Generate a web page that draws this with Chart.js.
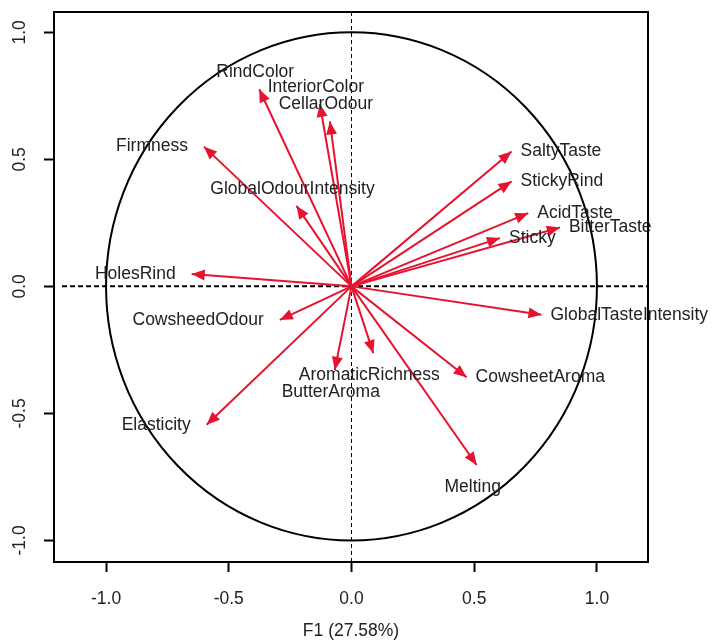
<!DOCTYPE html>
<html>
<head>
<meta charset="utf-8">
<script src="https://cdn.jsdelivr.net/npm/chart.js@4/dist/chart.umd.min.js"></script>
<style>
    html, body { margin: 0; padding: 0; background: #fff; }
    #wrap { width: 714px; height: 641px; }
</style>
</head>
<body>
<div id="wrap"><canvas id="pca-chart"></canvas></div>
<script>
// variable loadings on F1 / F2
const variables = ['RindColor', 'InteriorColor', 'CellarOdour', 'Firmness', 'GlobalOdourIntensity', 'HolesRind',
    'CowsheedOdour', 'Elasticity', 'ButterAroma', 'AromaticRichness', 'CowsheetAroma', 'Melting',
    'GlobalTasteIntensity', 'SaltyTaste', 'StickyRind', 'AcidTaste', 'BitterTaste', 'Sticky'];
const f1 = [-0.376, -0.129, -0.088, -0.601, -0.224, -0.651, -0.292, -0.590, -0.068, 0.089, 0.469, 0.510,
    0.774, 0.652, 0.652, 0.720, 0.849, 0.605];
const f2 = [0.776, 0.718, 0.649, 0.550, 0.317, 0.049, -0.132, -0.545, -0.329, -0.263, -0.358, -0.703,
    -0.112, 0.531, 0.413, 0.288, 0.232, 0.190];
const tickValues = [-1.0, -0.5, 0.0, 0.5, 1.0];
const xTitle = 'F1 (27.58%)';

// where each label sits relative to its arrow tip
const labelSide = ['above', 'above', 'above', 'left', 'above', 'left', 'left', 'left', 'below', 'below',
    'right', 'below', 'right', 'right', 'right', 'right', 'right', 'right'];

const arrowRed = '#e6132f';
const textColor = '#222';
const fontFamily = '"Liberation Sans", Arial, sans-serif';

const datasets = variables.map(function (name, i) {
    return {
        label: name,
        data: [{ x: 0, y: 0 }, { x: f1[i], y: f2[i] }],
        borderColor: arrowRed,
        borderWidth: 2,
        pointRadius: 0,
        showLine: true,
        clip: false
    };
});

const pcaDecor = {
    id: 'pcaDecor',
    beforeDatasetsDraw(chart) {
        const { ctx, chartArea: a, scales: { x, y } } = chart;
        const x0 = x.getPixelForValue(0);
        const y0 = y.getPixelForValue(0);
        ctx.save();
        ctx.strokeStyle = '#000';
        ctx.lineWidth = 2;
        ctx.beginPath();
        ctx.ellipse(x0, y0, x.getPixelForValue(1) - x0, y0 - y.getPixelForValue(1), 0, 0, Math.PI * 2);
        ctx.stroke();

        ctx.setLineDash([5, 3]);
        ctx.beginPath();
        ctx.moveTo(a.left + 8, y0);
        ctx.lineTo(a.right, y0);
        ctx.stroke();

        ctx.lineWidth = 1;
        ctx.setLineDash([4, 3]);
        ctx.beginPath();
        ctx.moveTo(x0, a.top);
        ctx.lineTo(x0, a.bottom);
        ctx.stroke();
        ctx.restore();
    },
    afterDatasetsDraw(chart) {
        const { ctx, chartArea: a, scales: { x, y } } = chart;
        const x0 = x.getPixelForValue(0);
        const y0 = y.getPixelForValue(0);
        ctx.save();

        // arrow heads
        ctx.fillStyle = arrowRed;
        variables.forEach(function (name, i) {
            const px = x.getPixelForValue(f1[i]);
            const py = y.getPixelForValue(f2[i]);
            const ang = Math.atan2(py - y0, px - x0);
            const len = 13, half = 5.5;
            ctx.beginPath();
            ctx.moveTo(px, py);
            ctx.lineTo(px - len * Math.cos(ang) + half * Math.sin(ang), py - len * Math.sin(ang) - half * Math.cos(ang));
            ctx.lineTo(px - len * Math.cos(ang) - half * Math.sin(ang), py - len * Math.sin(ang) + half * Math.cos(ang));
            ctx.closePath();
            ctx.fill();
        });

        // variable names
        ctx.fillStyle = textColor;
        ctx.font = '17.5px ' + fontFamily;
        ctx.textBaseline = 'middle';
        variables.forEach(function (name, i) {
            let px = x.getPixelForValue(f1[i]);
            let py = y.getPixelForValue(f2[i]);
            const side = labelSide[i];
            if (side === 'left') {
                ctx.textAlign = 'right';
                px -= 16;
            } else if (side === 'right') {
                ctx.textAlign = 'left';
                px += 9;
            } else {
                ctx.textAlign = 'center';
                px -= 4;
                py += side === 'above' ? -17 : 22;
            }
            ctx.fillText(name, px, py);
        });

        // rotated y tick labels
        ctx.textAlign = 'center';
        tickValues.forEach(function (v) {
            ctx.save();
            ctx.translate(20, y.getPixelForValue(v));
            ctx.rotate(-Math.PI / 2);
            ctx.fillText(v.toFixed(1), 0, 0);
            ctx.restore();
        });

        // plot frame
        ctx.strokeStyle = '#000';
        ctx.lineWidth = 2;
        ctx.strokeRect(a.left, a.top, a.right - a.left, a.bottom - a.top);
        ctx.restore();
    }
};

const ctxPca = document.getElementById('pca-chart').getContext('2d');
new Chart(ctxPca, {
    type: 'scatter',
    data: { datasets: datasets },
    options: {
        responsive: true,
        maintainAspectRatio: false,
        animation: false,
        layout: { padding: { top: 12, right: 66, left: 0, bottom: 0 } },
        plugins: {
            legend: { display: false },
            tooltip: { enabled: false }
        },
        scales: {
            x: {
                type: 'linear',
                min: -1.212,
                max: 1.208,
                afterBuildTicks: function (scale) {
                    scale.ticks = tickValues.map(function (v) { return { value: v }; });
                },
                afterFit: function (scale) { scale.height = 79; },
                grid: { drawOnChartArea: false, drawTicks: true, tickLength: 10, tickWidth: 2, tickColor: '#000' },
                border: { display: false },
                ticks: {
                    font: { size: 17.5, family: fontFamily },
                    color: textColor,
                    padding: 17,
                    maxRotation: 0,
                    callback: function (v) { return Number(v).toFixed(1); }
                },
                title: {
                    display: true,
                    text: xTitle,
                    font: { size: 17.5, family: fontFamily },
                    color: textColor,
                    padding: { top: 0, bottom: -1 }
                }
            },
            y: {
                type: 'linear',
                min: -1.085,
                max: 1.08,
                afterBuildTicks: function (scale) {
                    scale.ticks = tickValues.map(function (v) { return { value: v }; });
                },
                afterFit: function (scale) { scale.width = 54; },
                grid: { drawOnChartArea: false, drawTicks: true, tickLength: 10, tickWidth: 2, tickColor: '#000' },
                border: { display: false },
                ticks: { display: false }
            }
        }
    },
    plugins: [pcaDecor]
});
</script>
</body>
</html>
